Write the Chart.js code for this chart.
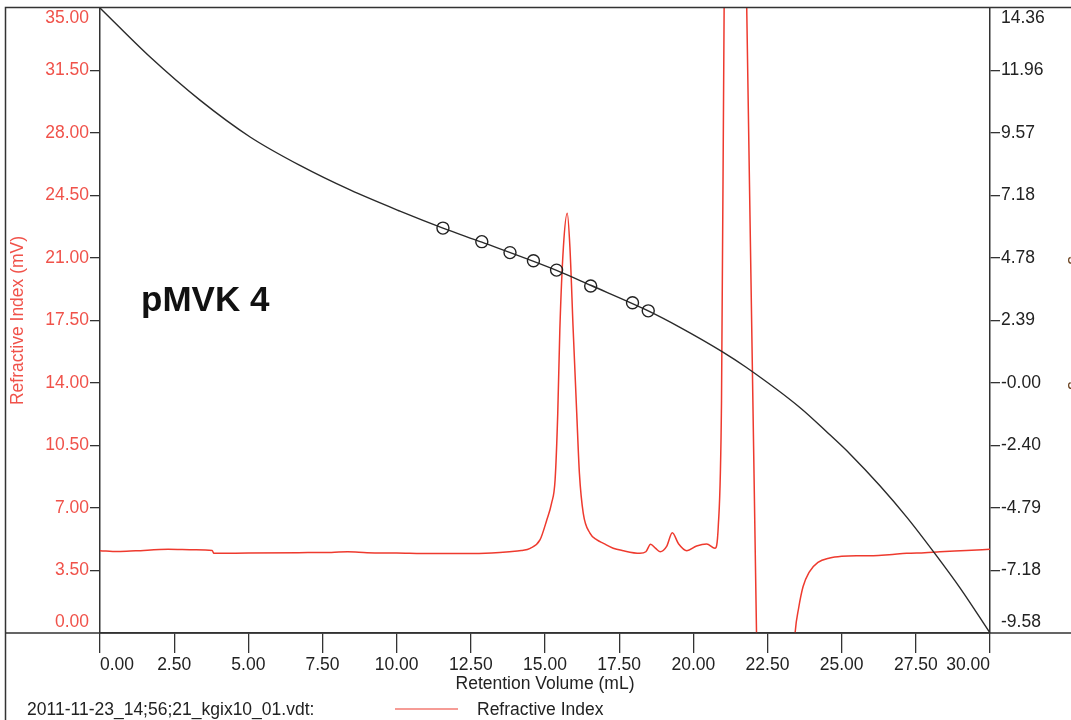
<!DOCTYPE html>
<html>
<head>
<meta charset="utf-8">
<script src="https://cdn.jsdelivr.net/npm/chart.js@4.4.1/dist/chart.umd.min.js"></script>
<style>
  html, body { margin: 0; padding: 0; background: #fff; overflow: hidden; }
  #wrap { position: relative; width: 1087px; height: 720px; }
</style>
</head>
<body>
<div id="wrap"><canvas id="gpcChart"></canvas></div>
<script>
// Refractive index trace (retention volume mL -> mV)
var riX = [0, 0.6, 1.2, 2.3, 3.2, 3.78, 3.84, 5.0, 6.7, 7.8, 8.35, 9.0, 10.0, 11.2, 12.3, 13.2, 13.8, 14.2,
           14.5, 14.83, 15.06, 15.22, 15.34, 15.43, 15.50, 15.62, 15.75, 15.84, 15.95, 16.07, 16.16, 16.29,
           16.52, 16.75, 16.97, 17.3, 17.6, 18.2, 18.4, 18.56, 18.72, 18.88, 19.1, 19.29, 19.5, 19.78,
           20.11, 20.45, 20.73, 20.84, 20.95, 21.04, 21.2, 21.4, 21.6, 21.8, 22.13, 22.5, 22.9, 23.2,
           23.43, 23.55, 23.7, 23.9, 24.2, 24.6, 25.0, 25.5, 26.07, 26.6, 27.19, 27.8, 28.31, 29.2, 30.0];
var riY = [4.61, 4.56, 4.60, 4.69, 4.66, 4.62, 4.46, 4.48, 4.50, 4.51, 4.55, 4.50, 4.48, 4.45, 4.45, 4.48, 4.55, 4.62,
           4.74, 5.21, 6.33, 7.26, 8.57, 12.3, 16.97, 21.6, 23.5, 21.6, 16.97, 12.3, 8.94, 6.70,
           5.58, 5.21, 5.02, 4.75, 4.62, 4.46, 4.55, 4.97, 4.75, 4.55, 4.85, 5.62, 5.0, 4.61,
           4.87, 4.98, 4.74, 5.95, 13.0, 35.5, 60, 75, 60, 35, 0, -25, -20, -7,
           0, 1.4, 2.6, 3.4, 3.95, 4.2, 4.3, 4.33, 4.33, 4.38, 4.46, 4.50, 4.55, 4.62, 4.69];

// calibration curve (log molecular weight, right axis)
var calX = [0, 1.69, 3.37, 5.06, 6.74, 8.43, 10.11, 11.56, 12.87, 15.39, 16.54, 18.48, 19.55,
            20.97, 21.78, 23.6, 24.5, 25.28, 26.29, 27.2, 28.15, 29.0, 30.0];
var calY = [14.36, 12.48, 10.83, 9.42, 8.33, 7.39, 6.58, 5.93, 5.39, 4.31, 3.74, 2.76, 2.13,
            1.20, 0.60, -0.95, -1.88, -2.72, -3.94, -5.15, -6.55, -7.87, -9.58];

// calibration standards (circles)
var stdX = [11.56, 12.87, 13.82, 14.61, 15.39, 16.54, 17.95, 18.48];
var stdY = [5.93, 5.41, 4.99, 4.68, 4.32, 3.71, 3.07, 2.76];

// tick labels
var xTicks = [0, 2.5, 5, 7.5, 10, 12.5, 15, 17.5, 20, 22.5, 25, 27.5, 30];
var leftTicks = [0, 3.5, 7, 10.5, 14, 17.5, 21, 24.5, 28, 31.5, 35];
var rightTickLabels = ['-9.58', '-7.18', '-4.79', '-2.40', '-0.00', '2.39', '4.78', '7.18', '9.57', '11.96', '14.36'];

var sampleLabel = 'pMVK 4';
var fileLabel = '2011-11-23_14;56;21_kgix10_01.vdt:';
var seriesName = 'Refractive Index';

var riColor = '#ee3a2e';
var leftColor = '#f0524a';
var inkColor = '#222';
var font = '"Liberation Sans", Arial, sans-serif';

function pts(xs, ys) { return xs.map(function (x, i) { return {x: x, y: ys[i]}; }); }

// edge labels sit inside the plot, like the original software
function edgeLabel(text, i, n) {
    if (i === 0) return [text, ''];
    if (i === n - 1) return ['', text];
    return text;
}
function hideEdgeTicks(ctx, n) {
    return (ctx.index === 0 || ctx.index === n - 1) ? 'rgba(0,0,0,0)' : '#333';
}

const extras = {
    id: 'extras',
    afterDraw(chart) {
        var c = chart.ctx, a = chart.chartArea;
        c.save();
        c.strokeStyle = '#333';
        c.lineWidth = 1.5;
        c.beginPath();
        c.moveTo(5.5, chart.height); c.lineTo(5.5, 7.5); c.lineTo(chart.width, 7.5);
        c.moveTo(5.5, a.bottom); c.lineTo(chart.width, a.bottom);
        c.stroke();

        c.fillStyle = '#111';
        c.textBaseline = 'middle';
        c.font = 'bold 35px ' + font;
        c.fillText(sampleLabel, 141, 301);

        c.fillStyle = inkColor;
        c.font = '17.5px ' + font;
        c.fillText(fileLabel, 27, 710);
        c.strokeStyle = riColor;
        c.lineWidth = 1.2;
        c.beginPath(); c.moveTo(395, 709); c.lineTo(458, 709); c.stroke();
        c.fillText(seriesName, 477, 710);
        c.restore();
    }
};

const data = {
    datasets: [
        {label: 'Standards', data: pts(stdX, stdY), yAxisID: 'y1', showLine: false,
         pointRadius: 6, pointBorderColor: '#222', pointBorderWidth: 1.4, pointBackgroundColor: 'rgba(0,0,0,0)'},
        {label: 'Calibration', data: pts(calX, calY), yAxisID: 'y1', borderColor: '#2a2a2a', borderWidth: 1.4,
         pointRadius: 0, cubicInterpolationMode: 'monotone', fill: false},
        {label: seriesName, data: pts(riX, riY), yAxisID: 'y', borderColor: riColor, borderWidth: 1.5,
         pointRadius: 0, cubicInterpolationMode: 'monotone', fill: false}
    ]
};

const config = {
    type: 'line',
    data: data,
    plugins: [extras],
    options: {
        responsive: true,
        maintainAspectRatio: false,
        animation: false,
        layout: {padding: {top: 8, left: 0, right: 0, bottom: 22}},
        plugins: {legend: {display: false}, tooltip: {enabled: false}},
        scales: {
            x: {
                type: 'linear', position: 'bottom', min: 0, max: 30,
                afterBuildTicks: function (s) { s.ticks = xTicks.map(function (v) { return {value: v}; }); },
                afterFit: function (s) { s.height = 65; s.paddingLeft = 0; s.paddingRight = 0; },
                ticks: {autoSkip: false, maxRotation: 0, align: 'inner', padding: 2, color: inkColor,
                        font: {family: font, size: 17.5},
                        callback: function (v) { return v.toFixed(2); }},
                grid: {drawOnChartArea: false, tickLength: 20, color: '#333', lineWidth: 1.3},
                border: {color: '#333', width: 1.5},
                title: {display: true, text: 'Retention Volume (mL)', color: inkColor,
                        font: {family: font, size: 17.5}, padding: {top: 0, bottom: 3}}
            },
            y: {
                type: 'linear', position: 'left', min: 0, max: 35,
                afterBuildTicks: function (s) { s.ticks = leftTicks.map(function (v) { return {value: v}; }); },
                afterFit: function (s) { s.width = 100; s.paddingTop = 0; s.paddingBottom = 0; },
                ticks: {autoSkip: false, padding: 1, color: leftColor, font: {family: font, size: 17.5},
                        callback: function (v, i) { return edgeLabel(v.toFixed(2), i, leftTicks.length); }},
                grid: {drawOnChartArea: false, tickLength: 10, lineWidth: 1.3,
                       color: function (ctx) { return hideEdgeTicks(ctx, leftTicks.length); }},
                border: {color: '#333', width: 1.5},
                title: {display: true, text: 'Refractive Index (mV)', color: leftColor,
                        font: {family: font, size: 17.5}, padding: {top: 8, bottom: 0}}
            },
            y1: {
                type: 'linear', position: 'right', min: -9.58, max: 14.36,
                afterBuildTicks: function (s) {
                    s.ticks = rightTickLabels.map(function (t) { return {value: parseFloat(t)}; });
                },
                afterFit: function (s) { s.width = 97; s.paddingTop = 0; s.paddingBottom = 0; },
                ticks: {autoSkip: false, padding: 1, color: inkColor, font: {family: font, size: 17.5},
                        callback: function (v, i) { return edgeLabel(rightTickLabels[i], i, rightTickLabels.length); }},
                grid: {drawOnChartArea: false, tickLength: 10, lineWidth: 1.3,
                       color: function (ctx) { return hideEdgeTicks(ctx, rightTickLabels.length); }},
                border: {color: '#333', width: 1.5},
                title: {display: true, text: 'Log Molecular Weight', color: '#6b4320',
                        font: {family: font, size: 17.5}, padding: {top: 0, bottom: 0}}
            }
        }
    }
};

const gpcChart = new Chart(document.querySelector('#gpcChart'), config);
</script>
</body>
</html>
